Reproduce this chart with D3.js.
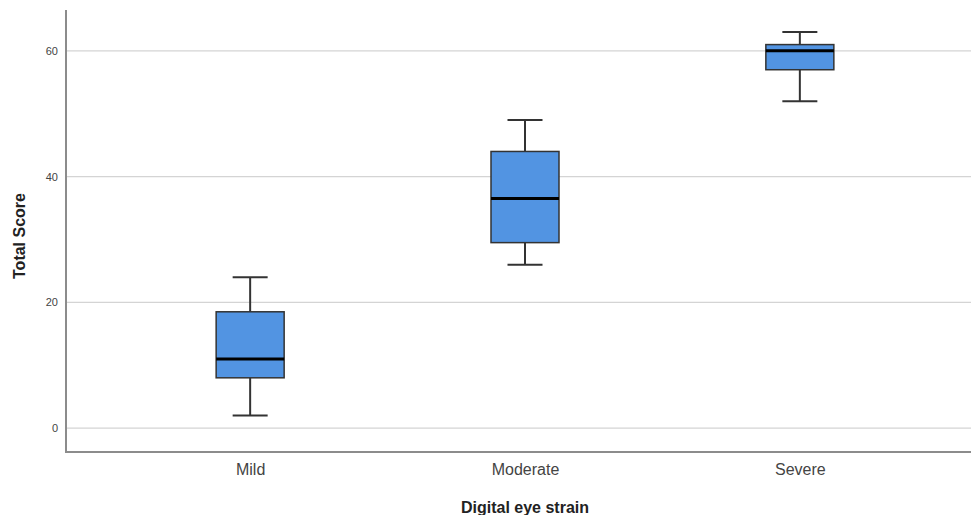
<!DOCTYPE html>
<html>
<head>
<meta charset="utf-8">
<script src="https://cdn.jsdelivr.net/npm/d3@7/dist/d3.min.js"></script>
<style>
  html, body { margin: 0; padding: 0; background: #fff; }
  svg { display: block; font-family: "Liberation Sans", Arial, sans-serif; }
</style>
</head>
<body>
<div id="chart"></div>
<script>
// data
var categories = ['Mild', 'Moderate', 'Severe'];
var whiskerLow = [2, 26, 52];
var q1Values = [8, 29.5, 57];
var medianValues = [11, 36.5, 60];
var q3Values = [18.5, 44, 61];
var whiskerHigh = [24, 49, 63];
var yTicks = [0, 20, 40, 60];

var chartW = 971, chartH = 515;
var plotLeft = 66, plotTop = 10, plotBottom = 452;

var svg = d3.select('#chart')
  .append('svg')
  .attr('width', chartW)
  .attr('height', chartH);

var x = d3.scalePoint()
  .domain(categories)
  .range([plotLeft, 984])
  .padding(0.67);

var y = d3.scaleLinear()
  .domain([-3.8, 66.5])
  .range([plotBottom, plotTop]);

// gridlines
svg.append('g')
  .selectAll('line')
  .data(yTicks)
  .enter()
  .append('line')
  .attr('x1', plotLeft)
  .attr('x2', chartW)
  .attr('y1', function (d) { return y(d); })
  .attr('y2', function (d) { return y(d); })
  .attr('stroke', '#d4d4d4')
  .attr('stroke-width', 1.2);

// y axis
var yAxis = svg.append('g')
  .attr('transform', 'translate(' + plotLeft + ',0)')
  .call(d3.axisLeft(y).tickValues(yTicks).tickSize(0).tickPadding(8));
yAxis.select('.domain').remove();
yAxis.selectAll('text')
  .attr('font-size', 11)
  .attr('fill', '#444')
  .attr('font-family', '"Liberation Sans", Arial, sans-serif');

// x axis
var xAxis = svg.append('g')
  .attr('transform', 'translate(0,' + plotBottom + ')')
  .call(d3.axisBottom(x).tickSize(0).tickPadding(12));
xAxis.select('.domain').remove();
xAxis.selectAll('text')
  .attr('font-size', 16)
  .attr('fill', '#444')
  .attr('font-family', '"Liberation Sans", Arial, sans-serif');

// axis lines
svg.append('line')
  .attr('x1', plotLeft).attr('x2', plotLeft)
  .attr('y1', plotTop).attr('y2', plotBottom)
  .attr('stroke', '#8c8c8c').attr('stroke-width', 2);
svg.append('line')
  .attr('x1', plotLeft - 1).attr('x2', chartW)
  .attr('y1', plotBottom).attr('y2', plotBottom)
  .attr('stroke', '#8c8c8c').attr('stroke-width', 2);

// boxes
var boxW = 68, capW = 35;
var boxes = svg.append('g')
  .selectAll('g')
  .data(categories)
  .enter()
  .append('g')
  .attr('transform', function (d) { return 'translate(' + x(d) + ',0)'; });

// whisker stems
boxes.append('line')
  .attr('x1', 0).attr('x2', 0)
  .attr('y1', function (d, i) { return y(whiskerHigh[i]); })
  .attr('y2', function (d, i) { return y(q3Values[i]); })
  .attr('stroke', '#333').attr('stroke-width', 2);
boxes.append('line')
  .attr('x1', 0).attr('x2', 0)
  .attr('y1', function (d, i) { return y(q1Values[i]); })
  .attr('y2', function (d, i) { return y(whiskerLow[i]); })
  .attr('stroke', '#333').attr('stroke-width', 2);

// caps
boxes.append('line')
  .attr('x1', -capW / 2).attr('x2', capW / 2)
  .attr('y1', function (d, i) { return y(whiskerHigh[i]); })
  .attr('y2', function (d, i) { return y(whiskerHigh[i]); })
  .attr('stroke', '#333').attr('stroke-width', 2);
boxes.append('line')
  .attr('x1', -capW / 2).attr('x2', capW / 2)
  .attr('y1', function (d, i) { return y(whiskerLow[i]); })
  .attr('y2', function (d, i) { return y(whiskerLow[i]); })
  .attr('stroke', '#333').attr('stroke-width', 2);

// box
boxes.append('rect')
  .attr('x', -boxW / 2)
  .attr('width', boxW)
  .attr('y', function (d, i) { return y(q3Values[i]); })
  .attr('height', function (d, i) { return y(q1Values[i]) - y(q3Values[i]); })
  .attr('fill', '#5294e2')
  .attr('stroke', '#333')
  .attr('stroke-width', 1.5);

// median
boxes.append('line')
  .attr('x1', -boxW / 2).attr('x2', boxW / 2)
  .attr('y1', function (d, i) { return y(medianValues[i]); })
  .attr('y2', function (d, i) { return y(medianValues[i]); })
  .attr('stroke', '#000').attr('stroke-width', 3);

// titles
svg.append('text')
  .attr('transform', 'translate(25,' + ((plotTop + plotBottom) / 2 + 5) + ') rotate(-90)')
  .attr('text-anchor', 'middle')
  .attr('font-size', 16)
  .attr('font-weight', 'bold')
  .attr('fill', '#222')
  .text('Total Score');

svg.append('text')
  .attr('x', x('Moderate'))
  .attr('y', 513)
  .attr('text-anchor', 'middle')
  .attr('font-size', 16)
  .attr('font-weight', 'bold')
  .attr('fill', '#222')
  .text('Digital eye strain');
</script>
</body>
</html>
